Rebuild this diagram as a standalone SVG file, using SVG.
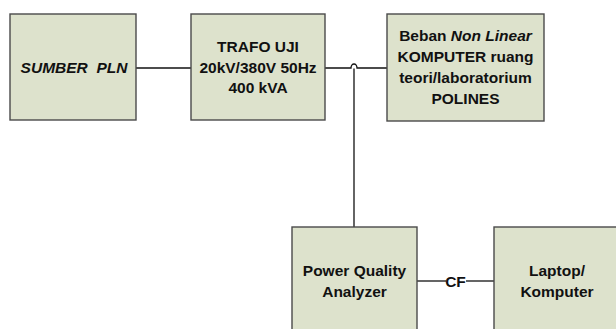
<svg xmlns="http://www.w3.org/2000/svg" width="616" height="329" viewBox="0 0 616 329">
<style>
.box{fill:#dde2cc;stroke:#4a4a4a;stroke-width:1.4}
.t{font-family:"Liberation Sans",Arial,sans-serif;font-weight:bold;font-size:15.5px;fill:#111;text-anchor:middle}
.i{font-style:italic}
.ln{fill:none;stroke:#111;stroke-width:1.3}
</style>
<rect width="616" height="329" fill="#fff"/>
<g id="connectors">
<line class="ln" x1="136" y1="68" x2="191" y2="68"/>
<path class="ln" d="M325,68 H351 A3,4 0 0 1 357,68 H387"/>
<line class="ln" x1="354" y1="68.5" x2="354" y2="227"/>
<line class="ln" x1="417" y1="281" x2="446" y2="281"/>
<line class="ln" x1="466" y1="281" x2="494" y2="281"/>
<text class="t" x="455.5" y="286.5" font-size="14.5">CF</text>
</g>
<g id="sumber">
<rect class="box" x="10" y="14" width="126" height="106"/>
<text class="t i" x="74" y="73">SUMBER&#160; PLN</text>
</g>
<g id="trafo">
<rect class="box" x="191" y="14" width="134" height="106"/>
<text class="t" x="258" y="52">TRAFO UJI</text>
<text class="t" x="258" y="72.5">20kV/380V 50Hz</text>
<text class="t" x="258" y="93">400 kVA</text>
</g>
<g id="beban">
<rect class="box" x="387" y="14" width="157" height="107"/>
<text class="t" x="465.5" y="41">Beban <tspan class="i">Non Linear</tspan></text>
<text class="t" x="465.5" y="62">KOMPUTER ruang</text>
<text class="t" x="465.5" y="83">teori/laboratorium</text>
<text class="t" x="465.5" y="103.5">POLINES</text>
</g>
<g id="pqa">
<rect class="box" x="292" y="227" width="125" height="120"/>
<text class="t" x="354.5" y="276">Power Quality</text>
<text class="t" x="354.5" y="296.5">Analyzer</text>
</g>
<g id="laptop">
<rect class="box" x="494" y="227" width="125" height="120"/>
<text class="t" x="557" y="276">Laptop/</text>
<text class="t" x="557" y="296.5">Komputer</text>
</g>
</svg>
